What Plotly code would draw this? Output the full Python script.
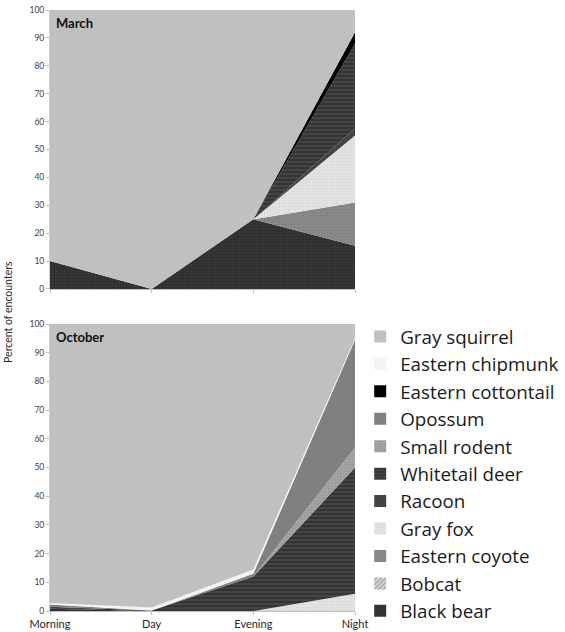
import plotly.graph_objects as go

# Time-of-day categories shared by both panels
periods = ["Morning", "Day", "Evening", "Night"]
ticks_y = [0, 10, 20, 30, 40, 50, 60, 70, 80, 90, 100]

# Species in stacking order (bottom to top)
species = ["Black bear", "Bobcat", "Eastern coyote", "Gray fox", "Racoon",
           "Whitetail deer", "Small rodent", "Opossum", "Eastern cottontail",
           "Eastern chipmunk", "Gray squirrel"]

# Percent of encounters per period, March
march_black_bear = [10, 0, 25, 15.5]
march_bobcat = [0, 0, 0, 0]
march_coyote = [0, 0, 0, 15.5]
march_gray_fox = [0, 0, 0, 24]
march_racoon = [0, 0, 0, 2.5]
march_whitetail = [0, 0, 0, 30.5]
march_small_rodent = [0, 0, 0, 0]
march_opossum = [0, 0, 0, 0]
march_cottontail = [0, 0, 0, 4]
march_chipmunk = [0, 0, 0, 0]
march_gray_squirrel = [90, 100, 75, 8]

# Percent of encounters per period, October
oct_black_bear = [0.8, 0, 0, 0]
oct_bobcat = [0, 0, 0, 0]
oct_coyote = [0, 0, 0, 0]
oct_gray_fox = [0, 0, 0, 6]
oct_racoon = [0, 0, 0, 0]
oct_whitetail = [0.7, 0.2, 12, 44]
oct_small_rodent = [0, 0, 0, 7]
oct_opossum = [0.8, 0, 1, 37.5]
oct_cottontail = [0, 0, 0, 0]
oct_chipmunk = [0.5, 1, 1.5, 0.5]
oct_gray_squirrel = [97.2, 98.8, 85.5, 5]

march = [march_black_bear, march_bobcat, march_coyote, march_gray_fox,
         march_racoon, march_whitetail, march_small_rodent, march_opossum,
         march_cottontail, march_chipmunk, march_gray_squirrel]
october = [oct_black_bear, oct_bobcat, oct_coyote, oct_gray_fox, oct_racoon,
           oct_whitetail, oct_small_rodent, oct_opossum, oct_cottontail,
           oct_chipmunk, oct_gray_squirrel]

# Fill styles: (background colour, pattern shape, pattern colour, size)
styles = {
    "Black bear": ("#363636", ".", "#1c1c1c", 3),
    "Bobcat": ("#d6d6d6", "/", "#5a5a5a", 4),
    "Eastern coyote": ("#8a8a8a", ".", "#767676", 3),
    "Gray fox": ("#e4e4e4", ".", "#c8c8c8", 3),
    "Racoon": ("#474747", ".", "#2e2e2e", 3),
    "Whitetail deer": ("#444444", "-", "#161616", 4),
    "Small rodent": ("#9a9a9a", ".", "#bdbdbd", 3),
    "Opossum": ("#808080", "", "#808080", 3),
    "Eastern cottontail": ("#000000", "", "#000000", 3),
    "Eastern chipmunk": ("#f3f3f3", "", "#f3f3f3", 3),
    "Gray squirrel": ("#c0c0c0", "", "#c0c0c0", 3),
}

x_pos = list(range(len(periods)))
fig = go.Figure()

for panel, (data, xa, ya) in enumerate([(march, "x", "y"), (october, "x2", "y2")]):
    for name, vals in zip(species, data):
        bg, shape, fg, size = styles[name]
        fig.add_trace(go.Scatter(
            x=x_pos, y=vals, xaxis=xa, yaxis=ya, name=name,
            stackgroup="s%d" % panel, mode="lines",
            line=dict(width=0, color=bg), fillcolor=bg,
            fillpattern=dict(shape=shape, bgcolor=bg, fgcolor=fg, size=size,
                             solidity=0.35) if shape else None,
            showlegend=False, hoverinfo="skip"))

# Legend entries (square swatches), top species first
for name in reversed(species):
    bg, shape, fg, size = styles[name]
    fig.add_trace(go.Bar(
        x=[None], y=[None], xaxis="x2", yaxis="y2", name=name,
        marker=dict(color=bg, line=dict(width=0),
                    pattern=dict(shape=shape, bgcolor=bg, fgcolor=fg,
                                 size=size, solidity=0.35) if shape else None),
        showlegend=True))

axis_font = dict(family="Lato, Open Sans, sans-serif", size=8.5, color="#404040")
common_x = dict(range=[0, 3], tickvals=x_pos, showgrid=False, zeroline=False,
                showline=True, linecolor="#bfbfbf", linewidth=1,
                ticks="outside", ticklen=3, tickcolor="#bfbfbf")
common_y = dict(range=[0, 100], tickvals=ticks_y, showgrid=False, zeroline=False,
                showline=True, linecolor="#d0d0d0", linewidth=1,
                ticks="outside", ticklen=3, tickcolor="#bfbfbf",
                tickfont=axis_font)

fig.update_layout(
    width=565, height=632,
    margin=dict(l=50, r=210, t=10, b=21, autoexpand=False),
    paper_bgcolor="white", plot_bgcolor="white",
    xaxis=dict(common_x, domain=[0, 1], anchor="y", showticklabels=False),
    yaxis=dict(common_y, domain=[0.5358, 1], anchor="x"),
    xaxis2=dict(common_x, domain=[0, 1], anchor="y2", ticktext=periods,
                tickfont=dict(family="Lato, Open Sans, sans-serif", size=11,
                              color="#262626")),
    yaxis2=dict(common_y, domain=[0, 0.4775], anchor="x2"),
    showlegend=True,
    legend=dict(xref="container", yref="container", x=0.6375, xanchor="left",
                y=0.4973, yanchor="top",
                font=dict(family="Open Sans, sans-serif", size=18.8,
                          color="#1a1a1a"),
                bgcolor="rgba(0,0,0,0)", traceorder="normal",
                itemwidth=30),
    annotations=[
        dict(text="<b>March</b>", xref="x domain", yref="y domain", x=0.012,
             y=0.99, xanchor="left", yanchor="top", showarrow=False,
             font=dict(family="Lato, Open Sans, sans-serif", size=13,
                       color="#111111")),
        dict(text="<b>October</b>", xref="x2 domain", yref="y2 domain", x=0.012,
             y=0.99, xanchor="left", yanchor="top", showarrow=False,
             font=dict(family="Lato, Open Sans, sans-serif", size=13,
                       color="#111111")),
        dict(text="Percent of encounters", xref="paper", yref="paper",
             x=-0.138, y=0.4975, xanchor="center", yanchor="middle",
             textangle=-90, showarrow=False,
             font=dict(family="Lato, Open Sans, sans-serif", size=10.5,
                       color="#262626")),
    ],
)

fig.write_html("out.html")
